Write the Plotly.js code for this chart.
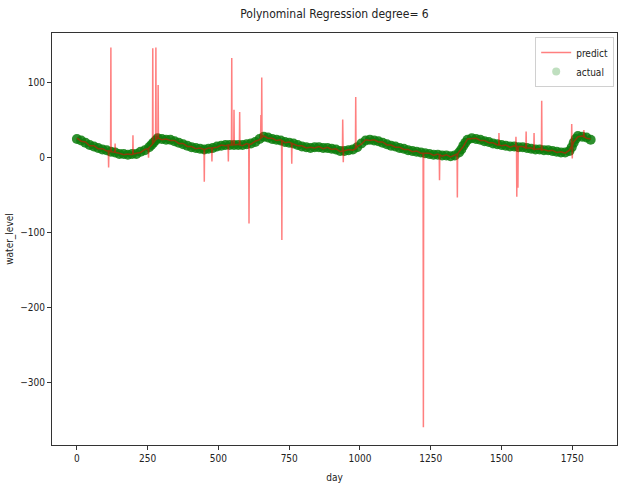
<!DOCTYPE html>
<html>
<head>
<meta charset="utf-8">
<script src="https://cdn.plot.ly/plotly-3.0.1.min.js"></script>
<style>
  html, body { margin: 0; padding: 0; background: #ffffff; }
  #chart { width: 621px; height: 486px; }
</style>
</head>
<body>
<div id="chart"></div>
<script>
// ---- data ----
const actualDay = [0,15,30,45,60,75,90,105,120,135,150,165,180,195,210,225,240,255,263,270,278,285,300,315,330,345,360,375,390,405,420,435,450,465,480,495,510,525,540,555,570,585,600,615,630,645,660,675,690,705,720,735,750,765,780,795,810,825,840,855,870,885,900,915,930,945,960,975,990,1005,1020,1035,1050,1065,1080,1095,1110,1125,1140,1155,1170,1185,1200,1215,1230,1245,1260,1275,1290,1305,1320,1335,1350,1358,1365,1372,1380,1395,1410,1425,1440,1455,1470,1485,1500,1515,1530,1545,1560,1575,1590,1605,1620,1635,1650,1665,1680,1695,1710,1725,1740,1748,1755,1762,1770,1785,1800,1815];
const actualLevel = [25,23,20,17,15,13,11,10,8,7,5,5,4,5,5,8,10,14,17,20,23,26,25,24,24,22,20,18,16,14,13,12,11,12,13,15,16,17,17,17,17,17,18,19,21,25,28,27,25,24,23,21,20,19,17,15,14,13,14,14,13,13,12,11,9,9,10,11,14,19,23,24,23,22,20,18,16,15,13,12,10,9,8,7,6,5,4,4,3,3,2,3,7,11,16,20,24,26,25,24,22,21,19,18,17,16,15,15,14,14,13,12,11,11,10,10,9,8,7,7,9,14,20,25,29,28,27,24];

const predictDay = [0,15,30,45,60,75,90,105,111,112,113,119,120,121,134,135,136,150,165,180,195,197,198,199,210,225,240,252,253,254,267,268,269,278,279,280,286,287,288,300,315,330,345,360,375,390,405,420,435,449,450,451,465,476,477,478,495,510,525,534,535,536,546,547,548,554,555,556,570,574,575,576,585,600,607,608,609,615,630,645,649,650,651,652,653,654,660,675,690,705,720,723,724,725,735,750,758,759,760,780,795,810,825,840,855,870,885,900,915,930,938,939,940,941,942,960,975,984,985,986,990,1005,1020,1035,1050,1065,1080,1095,1110,1125,1140,1155,1170,1185,1200,1215,1223,1224,1225,1245,1260,1275,1280,1281,1282,1290,1305,1320,1335,1343,1344,1345,1350,1365,1380,1395,1410,1425,1440,1455,1470,1485,1490,1491,1492,1500,1515,1530,1545,1550,1551,1552,1553,1554,1555,1557,1558,1559,1575,1586,1587,1588,1605,1614,1615,1616,1635,1641,1642,1643,1650,1665,1680,1695,1710,1725,1740,1747,1748,1749,1750,1751,1755,1770,1785,1790,1791,1792,1800,1815];
const predictLevel = [26,22,21,16,16,12,12,9,9,-13,9,8,147,8,7,19,7,6,4,5,4,5,30,5,6,7,11,12,0,13,18,146,19,24,147,24,26,97,26,24,25,23,23,19,19,15,15,12,13,11,-32,11,13,13,-5,13,14,17,16,17,-5,17,17,133,17,17,64,17,18,17,61,17,16,19,18,-88,18,18,22,24,26,57,26,27,107,27,29,26,26,23,24,23,-110,23,20,21,19,-8,19,16,16,13,14,13,15,12,14,11,12,8,9,51,9,-6,9,11,10,12,81,12,15,18,24,23,24,21,21,17,17,14,14,11,11,8,9,6,6,-360,6,6,3,5,4,-30,4,2,4,1,4,5,-53,5,8,15,25,25,26,23,23,20,20,17,17,33,17,16,17,14,16,15,28,15,15,-52,15,15,-40,15,15,13,35,13,13,11,33,11,12,10,76,10,11,9,10,7,8,6,10,15,45,15,-1,16,21,28,29,28,37,28,26,25];

const xTicks = [0,250,500,750,1000,1250,1500,1750];
const yTicks = [-300,-200,-100,0,100];

const titleText = 'Polynominal Regression degree= 6';
const xTitle = 'day';
const yTitle = 'water_level';

// ---- chart ----
const FONT = '"DejaVu Sans Condensed", "Liberation Sans Narrow", "DejaVu Sans", sans-serif';

const traces = [
  {
    x: actualDay, y: actualLevel, type: 'scatter', mode: 'markers',
    marker: {color: 'rgb(10,125,10)', size: 10, opacity: 0.85, line: {width: 0}},
    name: 'actual', showlegend: false, hoverinfo: 'skip'
  },
  {
    x: predictDay, y: predictLevel, type: 'scatter', mode: 'lines',
    line: {color: 'rgba(255,0,0,0.5)', width: 1.5},
    name: 'predict'
  },
  {
    x: [null], y: [null], type: 'scatter', mode: 'markers',
    marker: {color: 'rgba(0,128,0,0.25)', size: 8},
    name: 'actual'
  }
];

const axisCommon = {
  showgrid: false, zeroline: false, showline: true, mirror: true,
  linecolor: '#333', linewidth: 1, ticks: 'outside', ticklen: 4,
  tickcolor: '#333', tickfont: {family: FONT, size: 10, color: '#222'},
  fixedrange: true
};

const layout = {
  width: 621, height: 486,
  paper_bgcolor: '#ffffff', plot_bgcolor: '#ffffff',
  margin: {l: 52, r: 4, t: 33, b: 41, pad: 0},
  font: {family: FONT, color: '#222'},
  title: {text: titleText, font: {family: FONT, size: 12, color: '#222'},
          x: 0.5, xref: 'paper', y: 1 - 14/486, yref: 'container', yanchor: 'middle'},
  xaxis: Object.assign({}, axisCommon, {
    range: [-88, 1908], tickmode: 'array', tickvals: xTicks,
    ticktext: xTicks.map(String),
    title: {text: xTitle, font: {family: FONT, size: 10, color: '#222'}, standoff: 10}
  }),
  yaxis: Object.assign({}, axisCommon, {
    range: [-383.6, 166.5], tickmode: 'array', tickvals: yTicks,
    title: {text: yTitle, font: {family: FONT, size: 10, color: '#222'}, standoff: 4}
  }),
  showlegend: true,
  legend: {x: 0.995, xanchor: 'right', y: 0.99, yanchor: 'top',
           bgcolor: 'rgba(255,255,255,0.8)', bordercolor: '#d0d0d0', borderwidth: 1,
           font: {family: FONT, size: 10, color: '#222'}, itemwidth: 30,
           tracegroupgap: 0}
};

Plotly.newPlot('chart', traces, layout, {displayModeBar: false, staticPlot: true});
</script>
</body>
</html>
